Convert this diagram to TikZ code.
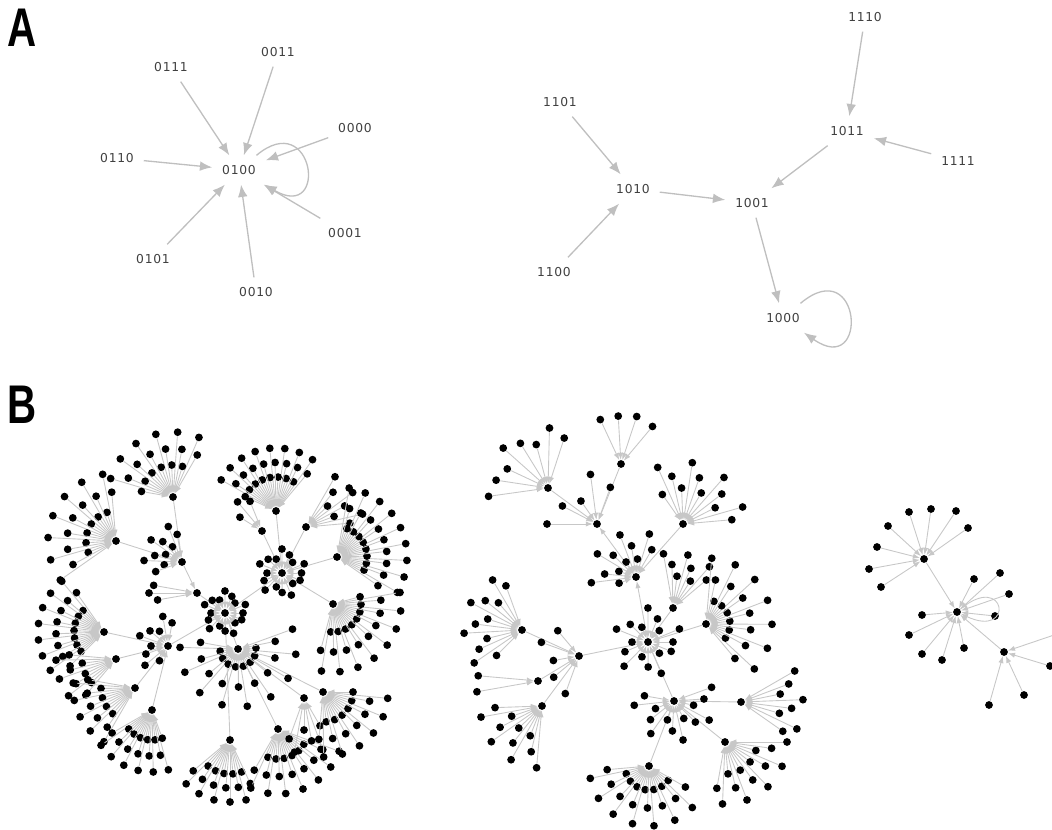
\documentclass[tikz,border=0pt]{standalone}
\usepackage{fontspec}
\usepackage{tikz}
\usetikzlibrary{arrows.meta,calc}
\newfontfamily\statefont[LetterSpace=6]{DejaVu Sans}
\newfontfamily\panelfont{Liberation Sans}
\newcommand{\fanout}[6]{%
  \foreach \k in {1,...,#4}{
    \pgfmathsetmacro{\fanang}{#2+(#3-#2)*(\k-1)/max(#4-1,1)}
    \pgfmathsetmacro{\fanrad}{#5+(#6-#5)*mod(\k,3)/2}
    \node[leaf] (#1-\k) at ($(#1)+(\fanang:\fanrad)$) {};
    \draw[tie] (#1-\k) -- (#1);
  }}

\begin{document}
\begin{tikzpicture}[x=0.02cm, y=0.02cm,
  state/.style={font=\statefont\fontsize{7}{8}\selectfont, text=black!75, inner sep=5.5pt},
  link/.style={draw=black!25, line width=0.75pt, -{Latex[length=7pt,width=5.5pt]}},
  leaf/.style={circle, fill=black, inner sep=0pt, minimum size=0.155cm},
  tie/.style={draw=black!22, line width=0.5pt, -{Latex[length=4pt,width=3pt]}},
  panel/.style={font=\panelfont\bfseries\fontsize{31}{31}\selectfont, xscale=0.74,
                transform shape, inner sep=0pt}
]
  \useasboundingbox (0,0) rectangle (1052,-830);
  \node[panel] (labA) at (22,-28) {A};
  \node[panel] (labB) at (22,-405) {B};

  \foreach \s/\x/\y in {0100/239/170, 0111/171/67, 0011/278/52, 0000/355/128,
      0110/117/158, 0101/153/259, 0010/256/292, 0001/345/233,
      1110/865/17, 1011/847/131, 1111/958/161, 1101/560/102,
      1010/633/189, 1001/752/203, 1100/554/272, 1000/783/318} {
    \node[state] (s\s) at (\x,-\y) {\s};
  }
  \foreach \a/\b in {s0111/s0100, s0011/s0100, s0000/s0100, s0110/s0100,
      s0101/s0100, s0010/s0100, s0001/s0100,
      s1110/s1011, s1111/s1011, s1011/s1001, s1101/s1010, s1100/s1010,
      s1010/s1001, s1001/s1000} {
    \draw[link] (\a) -- (\b);
  }
  \draw[link] (s0100.40) .. controls +(40:75) and +(-30:75) .. (s0100.-30);
  \draw[link] (s1000.40) .. controls +(40:80) and +(-35:80) .. (s1000.-35);

  \foreach \h/\x/\y in {c0/225/613, c1/282/573, c2/276/511, c3/262/531, c4/306/527,
      c5/337/557, c6/333/604, c7/197/593, c8/182/562, c9/173/497, c10/116/541,
      c11/168/646, c12/104/632, c13/116/659, c14/135/688, c15/152/710,
      c16/238/649, c17/230/740, c18/278/729, c19/304/698, c20/323/692,
      d0/648/642, d1/636/577, d2/597/524, d3/621/464, d4/548/488, d5/683/524,
      d6/673/608, d7/706/624, d8/674/701, d9/741/702, d10/725/742, d11/649/766,
      d12/579/656, d13/522/630, d14/538/681, d15/542/706,
      e0/957/612, e1/924/559, e2/1004/652} {
    \node[leaf] (\h) at (\x,-\y) {};
  }
  \foreach \a/\b in {c1/c0, c2/c1, c3/c1, c4/c1, c5/c1, c6/c1, c7/c0, c8/c7,
      c9/c8, c10/c8, c11/c0, c12/c11, c13/c11, c14/c11, c15/c11, c16/c0,
      c17/c0, c18/c16, c19/c16, c20/c16,
      d0/d1, d1/d2, d3/d2, d4/d2, d5/d1, d6/d0, d7/d0, d8/d0, d9/d8, d10/d8,
      d11/d8, d12/d0, d13/d12, d14/d12, d15/d12, e1/e0, e2/e0} {
    \draw[tie] (\a) -- (\b);
  }
  \foreach \h/\s/\e/\n/\ri/\ro in {c0/0/338/16/14/22, c1/0/338/16/15/24,
      c2/50/155/24/34/63, c3/112/148/3/26/38, c4/5/60/8/30/58,
      c5/-35/80/26/30/70, c6/-105/15/24/28/68, c7/170/190/3/40/48,
      c8/100/200/10/18/38, c9/60/170/18/32/65, c10/95/215/20/30/68,
      c11/80/240/9/17/30, c12/125/225/22/30/66, c13/175/230/10/34/60,
      c14/170/240/14/34/62, c15/210/290/18/30/62, c16/-190/20/26/18/58,
      c17/-140/-65/16/34/62, c18/-120/-20/20/30/65, c19/-110/-60/6/32/55,
      c20/-95/0/18/30/65,
      d0/0/338/16/16/34, d1/60/200/12/18/45, d2/70/180/5/28/50,
      d3/50/115/4/48/50, d4/72/188/8/45/60, d5/5/125/12/36/62,
      d6/40/100/8/32/55, d7/-50/85/20/24/66, d8/-190/20/14/20/40,
      d9/-35/30/8/40/62, d10/-100/0/14/32/62, d11/-175/-30/22/24/60,
      d12/130/250/5/26/40, d13/110/225/12/36/58, d14/175/190/2/58/62,
      d15/-178/-95/11/32/62} {
    \fanout{\h}{\s}{\e}{\n}{\ri}{\ro}
  }
  \foreach \x/\y/\h [count=\i] in {974/579/e0, 1000/573/e0, 1009/594/e0,
      995/616/e0, 964/648/e0, 942/660/e0, 922/654/e0, 909/635/e0, 922/615/e0,
      909/512/e1, 931/509/e1, 956/511/e1, 968/528/e1, 888/526/e1, 877/547/e1,
      869/569/e1, 881/587/e1, 1057/634/e2, 1050/666/e2, 1024/695/e2, 989/705/e2} {
    \node[leaf] (e-\i) at (\x,-\y) {};
    \draw[tie] (e-\i) -- (\h);
  }
  \draw[tie] (e0.40) .. controls +(40:60) and +(-25:60) .. (e0.-25);
\end{tikzpicture}
\end{document}
